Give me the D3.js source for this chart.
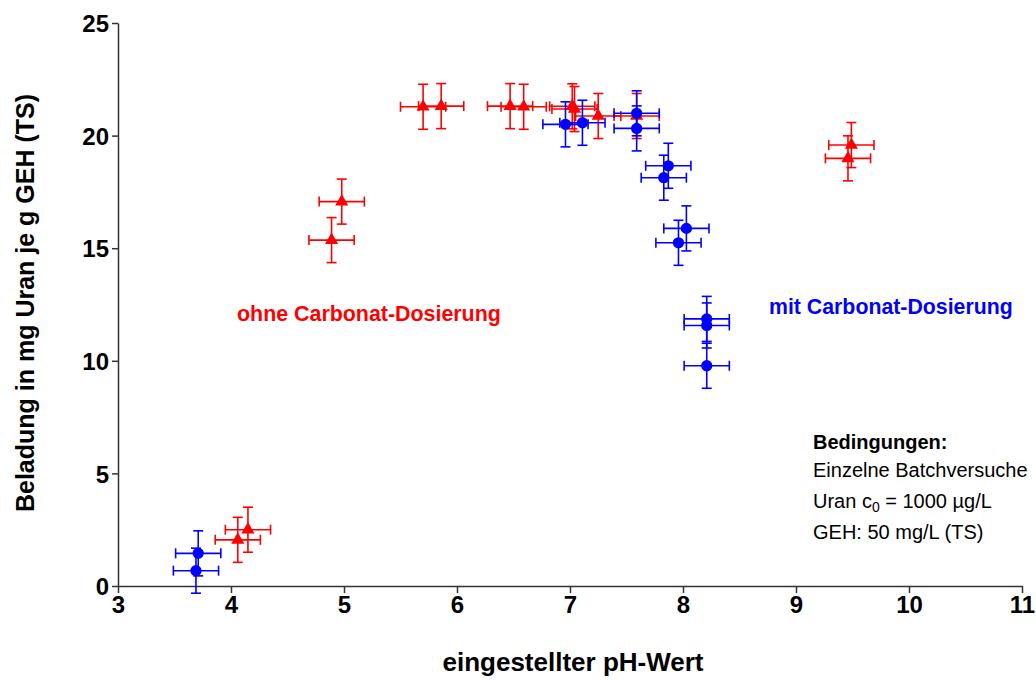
<!DOCTYPE html>
<html>
<head>
<meta charset="utf-8">
<script src="https://cdn.jsdelivr.net/npm/d3@7"></script>
<style>
  body { margin: 0; background: #fff; }
  text { font-family: "Liberation Sans", Arial, sans-serif; }
</style>
</head>
<body>
<svg id="chart" width="1036" height="680"></svg>
<script>
// ohne Carbonat-Dosierung (red triangles)
var phOhne   = [4.06, 4.15, 4.89, 4.98, 5.70, 5.86, 6.47, 6.59, 7.02, 7.04, 7.25, 7.59, 9.46, 9.49];
var ladOhne  = [2.05, 2.50, 15.36, 17.07, 21.28, 21.31, 21.31, 21.28, 21.30, 21.18, 20.87, 20.87, 18.99, 19.58];
// mit Carbonat-Dosierung (blue circles)
var phMit    = [3.69, 3.71, 6.96, 7.11, 7.59, 7.59, 7.83, 7.87, 7.96, 8.03, 8.21, 8.21, 8.21];
var ladMit   = [0.68, 1.45, 20.50, 20.57, 20.99, 20.32, 18.13, 18.66, 15.24, 15.88, 11.86, 11.57, 9.78];
// error bars (same for all points)
var errPh = 0.2;
var errLad = 1.0;

var xTicks = [3, 4, 5, 6, 7, 8, 9, 10, 11];
var yTicks = [0, 5, 10, 15, 20, 25];

var svg = d3.select("#chart");
var x = d3.scaleLinear().domain([3, 11]).range([118, 1022]);
var y = d3.scaleLinear().domain([0, 25]).range([586, 23]);

// axes
var xAxis = svg.append("g").attr("transform", "translate(0,586)")
    .call(d3.axisBottom(x).tickValues(xTicks).tickSize(7).tickSizeOuter(0).tickPadding(3));
var yAxis = svg.append("g").attr("transform", "translate(118,0)")
    .call(d3.axisLeft(y).tickValues(yTicks).tickSize(6).tickSizeOuter(0).tickPadding(3));
[xAxis, yAxis].forEach(function(a){
    a.select(".domain").attr("stroke", "#333").attr("stroke-width", 1.5);
    a.selectAll(".tick line").attr("stroke", "#333").attr("stroke-width", 1.5);
    a.selectAll(".tick text").attr("fill", "#000").attr("font-size", 24)
        .attr("font-weight", "bold").attr("font-family", "Liberation Sans, Arial, sans-serif");
});
yAxis.selectAll(".tick text").attr("dy", "0.36em");

svg.append("text").attr("x", 573).attr("y", 671).attr("text-anchor", "middle")
    .attr("font-size", 26).attr("font-weight", "bold").text("eingestellter pH-Wert");
svg.append("text").attr("transform", "translate(34,303) rotate(-90)").attr("text-anchor", "middle")
    .attr("font-size", 25).attr("font-weight", "bold").text("Beladung in mg Uran je g GEH (TS)");

function drawSeries(ph, lad, color, shape) {
    var pts = ph.map(function(d, i){ return {ph: d, lad: lad[i]}; });
    var g = svg.append("g").attr("stroke", color).attr("stroke-width", 1.6).attr("fill", "none");
    var cap = 5;
    pts.forEach(function(p){
        var cx = x(p.ph), cy = y(p.lad);
        var x0 = x(p.ph - errPh), x1 = x(p.ph + errPh);
        var y0 = y(p.lad - errLad), y1 = y(p.lad + errLad);
        g.append("line").attr("x1", x0).attr("x2", x1).attr("y1", cy).attr("y2", cy);
        g.append("line").attr("x1", x0).attr("x2", x0).attr("y1", cy - cap).attr("y2", cy + cap);
        g.append("line").attr("x1", x1).attr("x2", x1).attr("y1", cy - cap).attr("y2", cy + cap);
        g.append("line").attr("x1", cx).attr("x2", cx).attr("y1", y0).attr("y2", y1);
        g.append("line").attr("x1", cx - cap).attr("x2", cx + cap).attr("y1", y0).attr("y2", y0);
        g.append("line").attr("x1", cx - cap).attr("x2", cx + cap).attr("y1", y1).attr("y2", y1);
    });
    svg.append("g").selectAll("path").data(pts).enter().append("path")
        .attr("d", d3.symbol().type(shape).size(shape === d3.symbolCircle ? 100 : 75))
        .attr("transform", function(d){ return "translate(" + x(d.ph) + "," + y(d.lad) + ")"; })
        .attr("fill", color);
}
drawSeries(phOhne, ladOhne, "#ff0000", d3.symbolTriangle);
drawSeries(phMit, ladMit, "#0000ff", d3.symbolCircle);

svg.append("text").attr("x", 237).attr("y", 321).attr("font-size", 21.4).attr("font-weight", "bold")
    .attr("fill", "#ff0000").text("ohne Carbonat-Dosierung");
svg.append("text").attr("x", 769).attr("y", 314).attr("font-size", 21.3).attr("font-weight", "bold")
    .attr("fill", "#0000ff").text("mit Carbonat-Dosierung");

svg.append("text").attr("x", 813).attr("y", 449).attr("font-size", 20).attr("font-weight", "bold")
    .text("Bedingungen:");
svg.append("text").attr("x", 813).attr("y", 477).attr("font-size", 20).text("Einzelne Batchversuche");
var t = svg.append("text").attr("x", 813).attr("y", 508).attr("font-size", 20);
t.append("tspan").text("Uran c");
t.append("tspan").attr("font-size", 14).attr("dy", 4).text("0");
t.append("tspan").attr("dy", -4).text(" = 1000 µg/L");
svg.append("text").attr("x", 813).attr("y", 539).attr("font-size", 20).text("GEH: 50 mg/L (TS)");
</script>
</body>
</html>
